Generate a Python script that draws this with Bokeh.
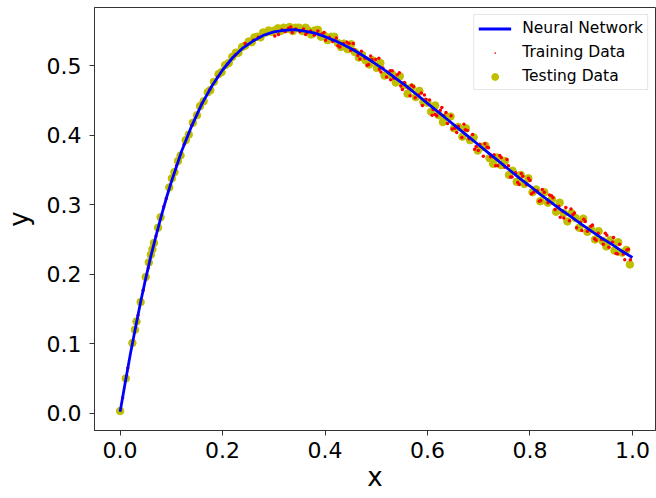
from bokeh.plotting import figure
from bokeh.models import Range1d, Legend, LegendItem, FixedTicker
from bokeh.embed import file_html
from bokeh.resources import INLINE

# ---------------- data ----------------
nn_x = [0.00, 0.01, 0.02, 0.03, 0.04, 0.05, 0.06, 0.07, 0.08, 0.09, 0.10,
        0.12, 0.14, 0.16, 0.18, 0.20, 0.22, 0.24, 0.26, 0.28, 0.30,
        0.32, 0.34, 0.36, 0.38, 0.40, 0.42, 0.44, 0.46, 0.48, 0.50,
        0.52, 0.54, 0.56, 0.58, 0.60, 0.62, 0.64, 0.66, 0.68, 0.70,
        0.72, 0.74, 0.76, 0.78, 0.80, 0.82, 0.84, 0.86, 0.88, 0.90,
        0.92, 0.94, 0.96, 0.98, 1.00]
nn_y = [0.002, 0.044, 0.085, 0.123, 0.160, 0.194, 0.226, 0.255, 0.283, 0.309, 0.333,
        0.377, 0.414, 0.446, 0.472, 0.494, 0.512, 0.526, 0.536, 0.544, 0.549,
        0.551, 0.552, 0.550, 0.547, 0.542, 0.536, 0.529, 0.521, 0.512, 0.502,
        0.492, 0.481, 0.470, 0.458, 0.446, 0.434, 0.422, 0.410, 0.398, 0.386,
        0.374, 0.362, 0.350, 0.338, 0.327, 0.315, 0.304, 0.293, 0.283, 0.272,
        0.262, 0.252, 0.243, 0.233, 0.224]

train_x = [0.005, 0.015, 0.035, 0.045, 0.055, 0.070, 0.085, 0.090, 0.110, 0.125,
           0.140, 0.160, 0.175, 0.190, 0.210, 0.225, 0.244, 0.260, 0.270,
           0.302, 0.309, 0.316, 0.322, 0.329, 0.336, 0.343, 0.351, 0.358, 0.365,
           0.372, 0.379, 0.386, 0.394, 0.401, 0.408, 0.415, 0.422, 0.429, 0.436,
           0.443, 0.450, 0.457, 0.464, 0.471, 0.478, 0.485, 0.492, 0.499, 0.506,
           0.513, 0.520, 0.527, 0.534, 0.541, 0.548, 0.555, 0.562, 0.569, 0.576,
           0.583, 0.590, 0.597, 0.604, 0.611, 0.618, 0.625, 0.632, 0.639, 0.646,
           0.653, 0.660, 0.667, 0.674, 0.681, 0.688, 0.695, 0.702, 0.709, 0.716,
           0.723, 0.730, 0.737, 0.744, 0.751, 0.758, 0.765, 0.772, 0.779, 0.786,
           0.793, 0.800, 0.807, 0.814, 0.821, 0.828, 0.835, 0.842, 0.849, 0.856,
           0.863, 0.870, 0.877, 0.884, 0.891, 0.898, 0.905, 0.912, 0.919, 0.926,
           0.933, 0.940, 0.947, 0.954, 0.961, 0.968, 0.975, 0.982, 0.989, 0.996,
           0.333, 0.362, 0.398, 0.425, 0.447, 0.468, 0.489, 0.509, 0.531, 0.551,
           0.573, 0.594, 0.615, 0.636, 0.657, 0.678, 0.699, 0.719, 0.741, 0.762,
           0.783, 0.803, 0.824, 0.845, 0.866, 0.887, 0.908, 0.929, 0.950, 0.971,
           0.992,
           0.455, 0.482, 0.505, 0.528, 0.545, 0.566, 0.588, 0.609, 0.628, 0.648,
           0.671, 0.692, 0.712, 0.733, 0.755, 0.776, 0.797, 0.818, 0.838, 0.859,
           0.880, 0.901, 0.922, 0.943, 0.963, 0.985]
train_y = [0.022, 0.065, 0.141, 0.177, 0.209, 0.255, 0.297, 0.309, 0.356, 0.387,
           0.414, 0.446, 0.466, 0.484, 0.503, 0.516, 0.532, 0.537, 0.541,
           0.543, 0.545, 0.552, 0.549, 0.554, 0.548, 0.553, 0.549, 0.553, 0.548,
           0.550, 0.544, 0.550, 0.546, 0.537, 0.541, 0.535, 0.540, 0.527, 0.532,
           0.534, 0.522, 0.523, 0.515, 0.521, 0.511, 0.502, 0.509, 0.509, 0.495,
           0.497, 0.484, 0.493, 0.482, 0.487, 0.471, 0.476, 0.468, 0.472, 0.454,
           0.458, 0.443, 0.452, 0.451, 0.437, 0.428, 0.436, 0.428, 0.417, 0.428,
           0.410, 0.413, 0.397, 0.408, 0.395, 0.401, 0.384, 0.387, 0.370, 0.383,
           0.369, 0.372, 0.356, 0.368, 0.354, 0.356, 0.340, 0.346, 0.329, 0.341,
           0.329, 0.335, 0.318, 0.320, 0.306, 0.318, 0.303, 0.313, 0.293, 0.298,
           0.291, 0.296, 0.277, 0.286, 0.267, 0.275, 0.279, 0.262, 0.269, 0.251,
           0.259, 0.250, 0.259, 0.239, 0.246, 0.230, 0.243, 0.229, 0.235, 0.221,
           0.556, 0.545, 0.548, 0.529, 0.532, 0.510, 0.514, 0.491, 0.493, 0.466,
           0.470, 0.458, 0.430, 0.433, 0.404, 0.407, 0.378, 0.382, 0.371, 0.340,
           0.345, 0.316, 0.322, 0.310, 0.281, 0.288, 0.276, 0.249, 0.256, 0.229,
           0.236,
           0.532, 0.501, 0.511, 0.480, 0.490, 0.457, 0.461, 0.429, 0.440, 0.409,
           0.416, 0.380, 0.388, 0.356, 0.365, 0.332, 0.338, 0.305, 0.314, 0.282,
           0.294, 0.263, 0.271, 0.243, 0.253, 0.221]

test_x = [0.000, 0.011, 0.024, 0.029, 0.032, 0.040, 0.050, 0.056, 0.060, 0.063,
          0.066, 0.074, 0.079, 0.096, 0.101, 0.106, 0.113, 0.118,
          0.128, 0.134, 0.142, 0.150, 0.156, 0.163, 0.171, 0.176, 0.183, 0.192,
          0.198, 0.205, 0.212, 0.219, 0.226, 0.231, 0.238, 0.244, 0.251, 0.257,
          0.262, 0.268, 0.274, 0.279, 0.285, 0.290, 0.296, 0.302, 0.308, 0.313,
          0.319, 0.325, 0.331, 0.337, 0.343, 0.349, 0.356, 0.362, 0.367, 0.373,
          0.380, 0.386, 0.392, 0.398, 0.405, 0.412, 0.418, 0.425, 0.431, 0.437,
          0.444, 0.451, 0.458, 0.466, 0.472, 0.479, 0.486, 0.493, 0.501, 0.508,
          0.516, 0.523, 0.531, 0.538, 0.546, 0.553, 0.561, 0.569, 0.577, 0.584,
          0.592, 0.600, 0.607, 0.615, 0.622, 0.630, 0.637, 0.645, 0.652, 0.660,
          0.668, 0.675, 0.683, 0.690, 0.698, 0.706, 0.713, 0.721, 0.728, 0.736,
          0.744, 0.751, 0.759, 0.766, 0.774, 0.782, 0.789, 0.797, 0.805, 0.812,
          0.820, 0.828, 0.835, 0.843, 0.851, 0.858, 0.866, 0.873, 0.881, 0.889,
          0.896, 0.904, 0.912, 0.919, 0.927, 0.934, 0.942, 0.949, 0.957, 0.965,
          0.972, 0.980, 0.988, 0.995]
test_y = [0.003, 0.050, 0.101, 0.120, 0.132, 0.160, 0.196, 0.217, 0.228, 0.236,
          0.245, 0.267, 0.282, 0.325, 0.338, 0.347, 0.363, 0.371,
          0.393, 0.401, 0.418, 0.429, 0.442, 0.449, 0.462, 0.465, 0.477, 0.488,
          0.491, 0.501, 0.504, 0.513, 0.519, 0.519, 0.527, 0.529, 0.535, 0.534,
          0.541, 0.542, 0.541, 0.548, 0.548, 0.551, 0.549, 0.551, 0.554, 0.550,
          0.555, 0.553, 0.556, 0.550, 0.555, 0.555, 0.550, 0.555, 0.551, 0.545,
          0.551, 0.552, 0.542, 0.544, 0.537, 0.542, 0.542, 0.533, 0.527, 0.532,
          0.524, 0.531, 0.520, 0.512, 0.516, 0.508, 0.502, 0.508, 0.497, 0.504,
          0.486, 0.487, 0.488, 0.476, 0.485, 0.472, 0.460, 0.469, 0.455, 0.464,
          0.448, 0.447, 0.434, 0.443, 0.429, 0.419, 0.427, 0.427, 0.410, 0.412,
          0.398, 0.410, 0.393, 0.397, 0.378, 0.383, 0.385, 0.367, 0.359, 0.368,
          0.357, 0.363, 0.343, 0.349, 0.333, 0.343, 0.330, 0.338, 0.318, 0.322,
          0.305, 0.318, 0.303, 0.308, 0.290, 0.303, 0.288, 0.276, 0.288, 0.281,
          0.267, 0.280, 0.261, 0.265, 0.250, 0.262, 0.248, 0.240, 0.249, 0.234,
          0.246, 0.231, 0.235, 0.214]

x_ticks = [0.0, 0.2, 0.4, 0.6, 0.8, 1.0]
x_tick_labels = ["0.0", "0.2", "0.4", "0.6", "0.8", "1.0"]
y_ticks = [0.0, 0.1, 0.2, 0.3, 0.4, 0.5]
y_tick_labels = ["0.0", "0.1", "0.2", "0.3", "0.4", "0.5"]
legend_labels = ["Neural Network", "Training Data", "Testing Data"]
x_label = "x"
y_label = "y"

# ---------------- figure ----------------
FONT = "DejaVu Sans"
p = figure(width=656, height=498, output_backend="svg", toolbar_location=None,
           x_range=Range1d(-0.05, 1.045), y_range=Range1d(-0.025, 0.584),
           min_border_left=89, min_border_right=1, min_border_top=7,
           min_border_bottom=68)
p.background_fill_color = "white"
p.border_fill_color = "white"
p.outline_line_color = "#333333"
p.outline_line_width = 1
p.xgrid.visible = False
p.ygrid.visible = False

for ax, ticks, labels in [(p.xaxis[0], x_ticks, x_tick_labels),
                          (p.yaxis[0], y_ticks, y_tick_labels)]:
    ax.ticker = FixedTicker(ticks=ticks)
    ax.major_label_overrides = {t: l for t, l in zip(ticks, labels)}
    ax.major_label_text_font = FONT
    ax.major_label_text_font_size = "22px"
    ax.major_label_text_color = "black"
    ax.major_tick_out = 5
    ax.major_tick_in = 0
    ax.minor_tick_line_color = None
    ax.major_tick_line_color = "#333333"
    ax.axis_line_color = "#333333"
    ax.axis_label_text_font = FONT
    ax.axis_label_text_font_size = "26px"
    ax.axis_label_text_font_style = "normal"
    ax.axis_label_text_color = "black"
p.xaxis.major_label_standoff = 6
p.yaxis.major_label_standoff = 8
p.xaxis.axis_label = x_label
p.yaxis.axis_label = y_label
p.xaxis.axis_label_standoff = 1
p.yaxis.axis_label_standoff = 10

r_test = p.scatter(test_x, test_y, marker="circle", size=7.5,
                   fill_color="#bfbf00", line_color="#bfbf00")
r_train = p.scatter(train_x, train_y, marker="dot", size=14,
                    fill_color="#ff0000", line_color="#ff0000")
r_nn = p.line(nn_x, nn_y, line_color="#0000ff", line_width=2.8)

legend = Legend(items=[LegendItem(label=legend_labels[0], renderers=[r_nn]),
                       LegendItem(label=legend_labels[1], renderers=[r_train]),
                       LegendItem(label=legend_labels[2], renderers=[r_test])],
                location="top_right", margin=7, padding=4, spacing=6,
                glyph_width=33, glyph_height=17, label_height=17,
                label_standoff=11, label_text_font=FONT,
                label_text_color="black",
                label_text_font_size="15.5px", border_line_color="#cccccc",
                border_line_width=1, background_fill_alpha=0.8)
p.add_layout(legend)

open("out.html", "w").write(file_html(p, INLINE))
